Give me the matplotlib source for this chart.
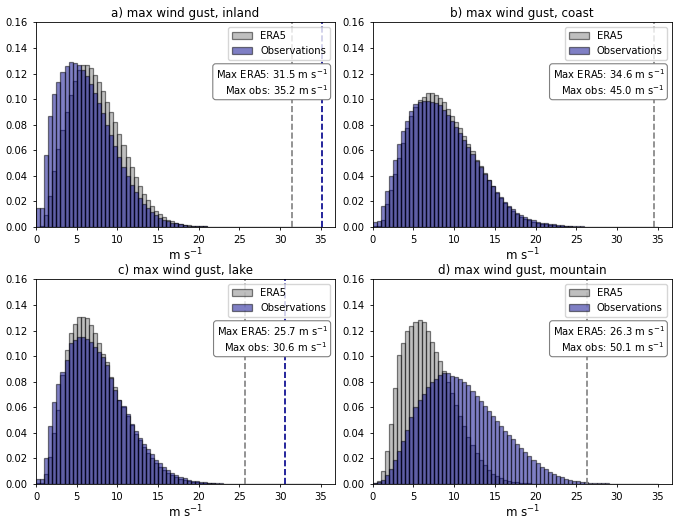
import numpy as np
import matplotlib
matplotlib.use("Agg")
import matplotlib.pyplot as plt

# bin edges: 0 to 35 m/s, width 0.5
bin_edges = np.arange(0, 35.5, 0.5)

titles = ["a) max wind gust, inland", "b) max wind gust, coast",
          "c) max wind gust, lake", "d) max wind gust, mountain"]
max_era5 = [31.5, 34.6, 25.7, 26.3]
max_obs = [35.2, 45.0, 30.6, 50.1]

# density per bin
era5_a = [0.0, 0.0005, 0.009, 0.024, 0.044, 0.061, 0.076, 0.090, 0.103, 0.114,
          0.1225, 0.1265, 0.1268, 0.124, 0.119, 0.113, 0.106, 0.098, 0.090, 0.082,
          0.073, 0.064, 0.055, 0.047, 0.039, 0.032, 0.026, 0.021, 0.0165, 0.0125,
          0.0097, 0.0073, 0.0055, 0.0042, 0.003, 0.0022, 0.0016, 0.0011, 0.0008, 0.0006,
          0.0004, 0.0003, 0.0002, 0.00015, 0.0001, 0.00007, 0.00005, 0.00003, 0.00002, 0.00001,
          0, 0, 0, 0, 0, 0, 0, 0, 0, 0,
          0, 0, 0, 0, 0, 0, 0, 0, 0, 0]
obs_a = [0.0149, 0.0149, 0.056, 0.0868, 0.1038, 0.1137, 0.121, 0.1262, 0.1288, 0.1285,
         0.127, 0.123, 0.118, 0.112, 0.105, 0.097, 0.089, 0.080, 0.072, 0.063,
         0.055, 0.047, 0.0395, 0.033, 0.0272, 0.0222, 0.018, 0.0144, 0.0112, 0.0089,
         0.007, 0.0055, 0.0042, 0.0033, 0.0026, 0.0019, 0.0014, 0.001, 0.0007, 0.0005,
         0.0004, 0.0003, 0.0002, 0.00015, 0.0001, 0.00007, 0.00005, 0.00003, 0.00002, 0.00001,
         0, 0, 0, 0, 0, 0, 0, 0, 0, 0,
         0, 0, 0, 0, 0, 0, 0, 0, 0, 0]

era5_b = [0.0005, 0.001, 0.0057, 0.018, 0.029, 0.041, 0.054, 0.066, 0.077, 0.087,
          0.094, 0.099, 0.102, 0.1045, 0.1045, 0.103, 0.101, 0.0977, 0.0925, 0.087,
          0.082, 0.077, 0.071, 0.065, 0.059, 0.0526, 0.0477, 0.042, 0.037, 0.032,
          0.0266, 0.0227, 0.0188, 0.0154, 0.0125, 0.0099, 0.0078, 0.0063, 0.005, 0.0039,
          0.003, 0.0024, 0.0018, 0.0014, 0.0011, 0.0008, 0.0006, 0.0005, 0.0003, 0.0002,
          0.00015, 0.0001, 0.00007, 0.00005, 0.00003, 0.00002, 0.00001, 0, 0, 0,
          0, 0, 0, 0, 0, 0, 0, 0, 0, 0]
obs_b = [0.0039, 0.0047, 0.0164, 0.028, 0.040, 0.0526, 0.0646, 0.0748, 0.083, 0.091,
         0.096, 0.098, 0.0985, 0.0985, 0.098, 0.097, 0.095, 0.0917, 0.0876, 0.083,
         0.078, 0.0735, 0.068, 0.0625, 0.057, 0.0516, 0.047, 0.0417, 0.037, 0.0323,
         0.0274, 0.0235, 0.0195, 0.0164, 0.0136, 0.011, 0.0091, 0.0073, 0.006, 0.005,
         0.004, 0.0033, 0.0027, 0.0022, 0.0018, 0.0014, 0.0011, 0.0009, 0.0007, 0.0005,
         0.0004, 0.0003, 0.0002, 0.00015, 0.0001, 0.00008, 0.00006, 0.00004, 0.00003, 0.00002,
         0.00001, 0, 0, 0, 0, 0, 0, 0, 0, 0]

era5_c = [0.0005, 0.0008, 0.008, 0.021, 0.040, 0.0577, 0.085, 0.105, 0.118, 0.1255,
          0.131, 0.131, 0.130, 0.124, 0.1177, 0.110, 0.102, 0.0955, 0.0838, 0.076,
          0.066, 0.060, 0.053, 0.046, 0.039, 0.034, 0.029, 0.024, 0.020, 0.016,
          0.013, 0.0105, 0.0083, 0.0065, 0.005, 0.0038, 0.0029, 0.0022, 0.0016, 0.0012,
          0.0009, 0.0006, 0.0004, 0.0003, 0.0002, 0.00013, 0.0001, 0.00006, 0.00004, 0.00002,
          0.00001, 0, 0, 0, 0, 0, 0, 0, 0, 0,
          0, 0, 0, 0, 0, 0, 0, 0, 0, 0]
obs_c = [0.004, 0.0034, 0.0204, 0.045, 0.064, 0.078, 0.0874, 0.097, 0.110, 0.1125,
         0.1146, 0.1146, 0.113, 0.1107, 0.107, 0.1034, 0.099, 0.093, 0.0825, 0.0733,
         0.0655, 0.061, 0.0545, 0.047, 0.041, 0.036, 0.031, 0.027, 0.023, 0.019,
         0.016, 0.013, 0.0105, 0.0085, 0.0068, 0.0054, 0.0042, 0.0033, 0.0025, 0.0019,
         0.0015, 0.0011, 0.0008, 0.0006, 0.00045, 0.0003, 0.0002, 0.00015, 0.0001, 0.00008,
         0.00005, 0.00003, 0.00002, 0.00001, 0, 0, 0, 0, 0, 0,
         0, 0, 0, 0, 0, 0, 0, 0, 0, 0]

era5_d = [0.0005, 0.0023, 0.0102, 0.0258, 0.0465, 0.0747, 0.1007, 0.110, 0.1195, 0.1235,
          0.127, 0.128, 0.127, 0.120, 0.111, 0.103, 0.096, 0.088, 0.080, 0.071,
          0.062, 0.053, 0.045, 0.037, 0.030, 0.024, 0.019, 0.0145, 0.011, 0.008,
          0.006, 0.0043, 0.003, 0.0021, 0.0015, 0.001, 0.0007, 0.0005, 0.0003, 0.0002,
          0.00015, 0.0001, 0.00007, 0.00005, 0.00003, 0.00002, 0.00001, 0, 0, 0,
          0, 0, 0, 0, 0, 0, 0, 0, 0, 0,
          0, 0, 0, 0, 0, 0, 0, 0, 0, 0]
obs_d = [0.0003, 0.001, 0.0029, 0.0068, 0.0112, 0.0185, 0.0258, 0.0337, 0.042, 0.0525,
         0.060, 0.066, 0.0707, 0.076, 0.080, 0.0817, 0.085, 0.087, 0.087, 0.0845,
         0.0835, 0.082, 0.080, 0.077, 0.073, 0.069, 0.065, 0.061, 0.057, 0.053,
         0.049, 0.045, 0.0415, 0.038, 0.0347, 0.031, 0.0277, 0.0245, 0.0217, 0.0188,
         0.016, 0.0135, 0.0113, 0.0094, 0.0077, 0.0062, 0.005, 0.004, 0.0031, 0.0024,
         0.0018, 0.0014, 0.0011, 0.0008, 0.0006, 0.0005, 0.0004, 0.0003, 0.0002, 0.00015,
         0.0001, 0.00008, 0.00006, 0.00005, 0.00004, 0.00003, 0.00002, 0.00002, 0.00001, 0.00001]

era5_all = [era5_a, era5_b, era5_c, era5_d]
obs_all = [obs_a, obs_b, obs_c, obs_d]

fs = 7.2
fig, axes = plt.subplots(2, 2, figsize=(6.8, 5.23), dpi=100)
plt.subplots_adjust(left=0.053, right=0.988, top=0.957, bottom=0.075,
                    wspace=0.126, hspace=0.258)

for ax, title, e, o, me, mo in zip(axes.flat, titles, era5_all, obs_all, max_era5, max_obs):
    ax.bar(bin_edges[:-1], e, width=0.5, align='edge', color='grey', alpha=0.5,
           edgecolor='black', linewidth=0.9, label='ERA5')
    ax.bar(bin_edges[:-1], o, width=0.5, align='edge', color='darkblue', alpha=0.5,
           edgecolor='black', linewidth=0.9, label='Observations')
    ax.axvline(me, color='grey', linestyle='--', linewidth=1.2)
    ax.axvline(mo, color='darkblue', linestyle='--', linewidth=1.2)
    ax.set_xlim(0, 36.75)
    ax.set_ylim(0, 0.16)
    ax.set_yticks(np.arange(0, 0.161, 0.02))
    ax.set_xticks(np.arange(0, 36, 5))
    ax.tick_params(labelsize=fs, width=0.6, length=2.5)
    for sp in ax.spines.values():
        sp.set_linewidth(0.6)
    ax.set_title(title, fontsize=8.6, pad=4)
    ax.set_xlabel('m s$^{-1}$', fontsize=8.6, labelpad=1)
    ax.legend(loc='upper right', fontsize=fs)
    txt = 'Max ERA5: %.1f m s$^{-1}$\nMax obs: %.1f m s$^{-1}$' % (me, mo)
    ax.text(0.975, 0.71, txt, transform=ax.transAxes, ha='right', va='center',
            fontsize=fs, multialignment='right',
            bbox=dict(boxstyle='round', facecolor='white', edgecolor='grey', linewidth=0.8))

fig.savefig('out.png', dpi=100)
